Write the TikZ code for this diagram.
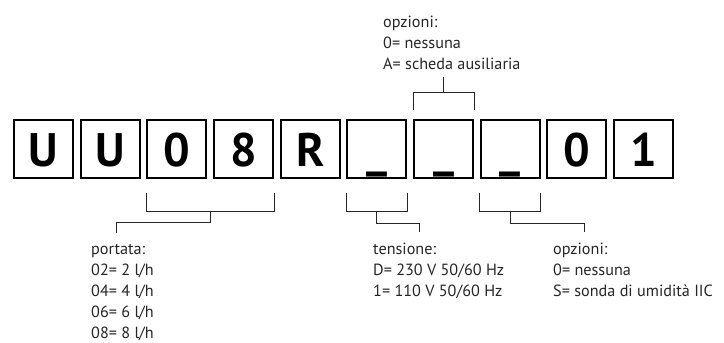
\documentclass[tikz,border=0pt]{standalone}
\usepackage{fontspec}
\setmainfont{PT Sans}
\usetikzlibrary{positioning,calc}

\begin{document}
\begin{tikzpicture}[x=1pt,y=-1pt,
  cell/.style={draw,line width=2pt,minimum width=59pt,minimum height=58pt,
               inner sep=0pt,text height=34pt,text depth=0pt,
               font=\fontsize{47}{47}\selectfont\bfseries},
  brk/.style={line width=0.9pt,black!85},
  lbl/.style={anchor=base west,inner sep=0pt,align=left,text=black!85,
              font=\fontsize{16.2}{21}\selectfont},
]
\useasboundingbox (0,0) rectangle (724,343);
% code cells
\foreach \c [count=\i] in {U,U,0,8,R,\_,\_,\_,0,1}
  \node[cell] (c\i) at ({43.5+66.67*(\i-1)},149) {\c};
% label texts (placed at the baseline of their last line)
\node[lbl] (opztop) at (383,69) {opzioni:\\0= nessuna\\A= scheda ausiliaria};
\node[lbl] (portata) at (91,338) {portata:\\02= 2 l/h\\04= 4 l/h\\06= 6 l/h\\08= 8 l/h};
\node[lbl] (tensione) at (373,296) {tensione:\\D= 230 V 50/60 Hz\\1= 110 V 50/60 Hz};
\node[lbl] (opzbot) at (553,296) {opzioni:\\0= nessuna\\S= sonda di umidità IIC};
% free ends of the brackets
\coordinate (ot) at (443.5,77);
\coordinate (pt) at (116,233);
\coordinate (tt) at (419,232);
\coordinate (ob) at (584,232);
% top bracket
\draw[brk] ($(c7.north west)+(0,-9)$) |- ($(c7.north east)+(0,-27)$) -- ++(0,18);
\draw[brk] ($(c7.north)+(0,-27)$) -- (ot);
% bottom brackets
\draw[brk] ($(c3.south west)+(0,14)$) |- ($(c4.south east)+(0,32)$) -- ++(0,-18);
\draw[brk] ($(c3.south)!.5!(c4.south)+(0,32)$) -- ++(0,11) -| (pt);
\draw[brk] ($(c6.south west)+(0,14)$) |- ($(c6.south east)+(0,32)$) -- ++(0,-18);
\draw[brk] ($(c6.south)+(0,32)$) -- ++(0,12) -| (tt);
\draw[brk] ($(c8.south west)+(0,14)$) |- ($(c8.south east)+(0,32)$) -- ++(0,-18);
\draw[brk] ($(c8.south)+(0,32)$) -- ++(0,12) -| (ob);
\end{tikzpicture}
\end{document}
